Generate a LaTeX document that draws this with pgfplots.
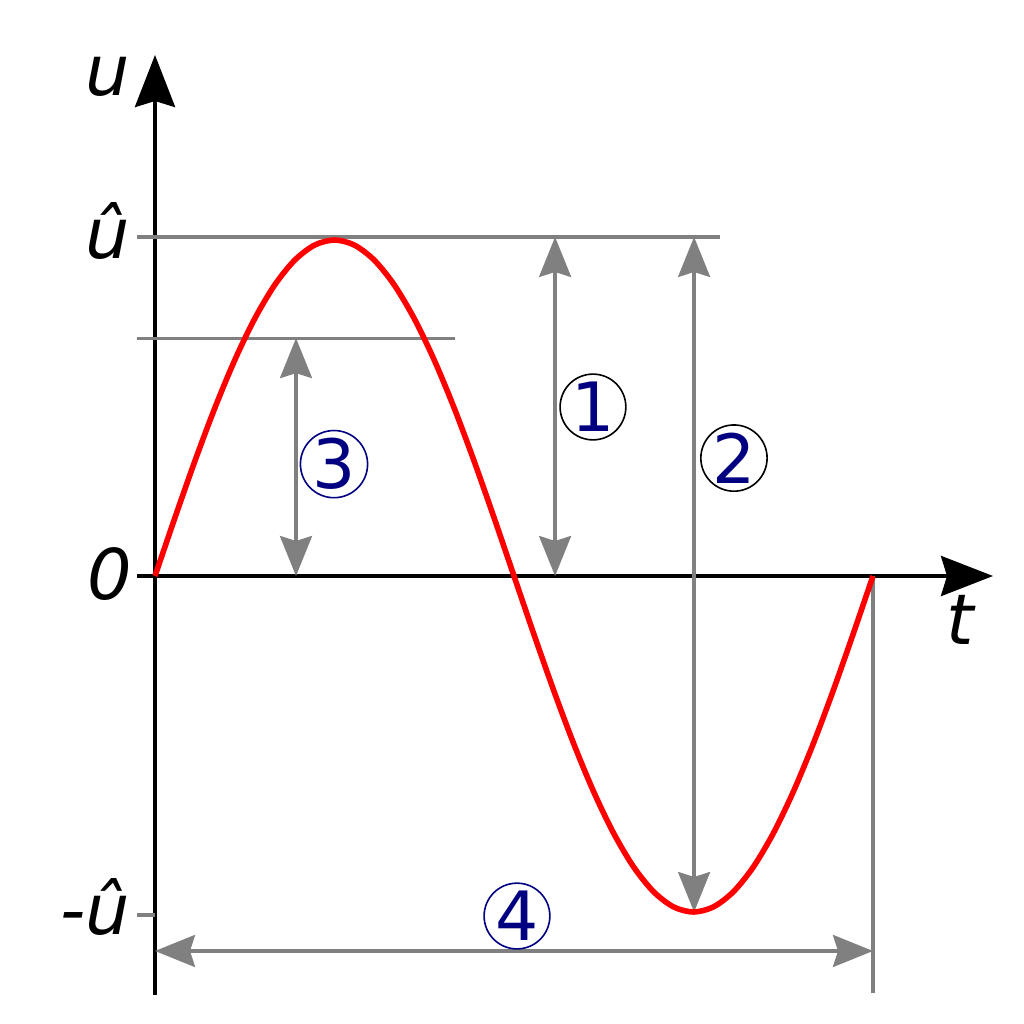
\documentclass[border=0pt]{standalone}
\usepackage{pgfplots}
\pgfplotsset{compat=1.18}
\usepackage{fontspec}
\setmainfont{DejaVu Sans}
\usetikzlibrary{arrows.meta}
\definecolor{navyblue}{RGB}{0,0,128}
\definecolor{midgray}{RGB}{128,128,128}
\tikzset{
  axarrow/.style={-{Stealth[length=26pt,width=20pt,inset=3pt]}},
  garrow/.style={{Stealth[length=20pt,width=16pt,inset=2.5pt]}-{Stealth[length=20pt,width=16pt,inset=2.5pt]}},
  lbl/.style={font=\fontsize{35}{42}\selectfont\itshape, inner sep=0pt},
  circ/.style={circle, line width=0.8pt, minimum size=32.5pt, inner sep=0pt, text=navyblue, font=\fontsize{34}{40}\selectfont},
}
\begin{document}
\begin{tikzpicture}
\begin{axis}[
  width=512pt, height=512pt, scale only axis,
  xmin=-77.72, xmax=435.72, ymin=-1.3333, ymax=1.7143,
  hide axis, clip=false,
]
\path (rel axis cs:0,0) rectangle (rel axis cs:1,1);
% coordinate axes
\addplot[black, line width=2pt, axarrow] coordinates {(0,-1.247) (0,1.5506)};
\addplot[black, line width=2pt, axarrow] coordinates {(-9,0) (420.2,0)};
% grey guide lines
\addplot[midgray, line width=1.6pt] coordinates {(-9,1.009) (283.3,1.009)};
\addplot[midgray, line width=1.6pt] coordinates {(-9,0.708) (150.4,0.708)};
\addplot[midgray, line width=1.6pt] coordinates {(-9,-1.009) (0,-1.009)};
\addplot[midgray, line width=1.6pt] coordinates {(360,0) (360,-1.241)};
% grey dimension arrows
\addplot[midgray, line width=1.6pt, garrow] coordinates {(200.6,1.009) (200.6,0)};
\addplot[midgray, line width=1.6pt, garrow] coordinates {(270.3,1.009) (270.3,-1.0)};
\addplot[midgray, line width=1.6pt, garrow] coordinates {(70.7,0.708) (70.7,0)};
\addplot[midgray, line width=1.6pt, garrow] coordinates {(0,-1.116) (360,-1.116)};
% sine curve
\addplot[red, line width=2.8pt, smooth] coordinates {
(0,0) (10,0.1736) (20,0.3420) (30,0.5) (40,0.6428) (50,0.7660) (60,0.8660)
(70,0.9397) (80,0.9848) (90,1) (100,0.9848) (110,0.9397) (120,0.8660)
(130,0.7660) (140,0.6428) (150,0.5) (160,0.3420) (170,0.1736) (180,0)
(190,-0.1736) (200,-0.3420) (210,-0.5) (220,-0.6428) (230,-0.7660) (240,-0.8660)
(250,-0.9397) (260,-0.9848) (270,-1) (280,-0.9848) (290,-0.9397) (300,-0.8660)
(310,-0.7660) (320,-0.6428) (330,-0.5) (340,-0.3420) (350,-0.1736) (360,0)
};
% labels
\node[lbl, anchor=base east] at (axis cs:-12.5,1.4315) {u};
\node[lbl, anchor=base east] at (axis cs:-12.5,0.946) {û};
\node[lbl, anchor=base east] at (axis cs:-11.5,-0.0714) {0};
\node[lbl, anchor=base east] at (axis cs:-12.5,-1.068) {-û};
\node[lbl, anchor=base west] at (axis cs:396.5,-0.205) {t};
% circled numbers
\node[circ, draw=black] at (axis cs:219.6,0.503) {1};
\node[circ, draw=black] at (axis cs:290.3,0.351) {2};
\node[circ, draw=navyblue] at (axis cs:89.75,0.333) {3};
\node[circ, draw=navyblue] at (axis cs:181.5,-1.012) {4};
\end{axis}
\end{tikzpicture}
\end{document}
